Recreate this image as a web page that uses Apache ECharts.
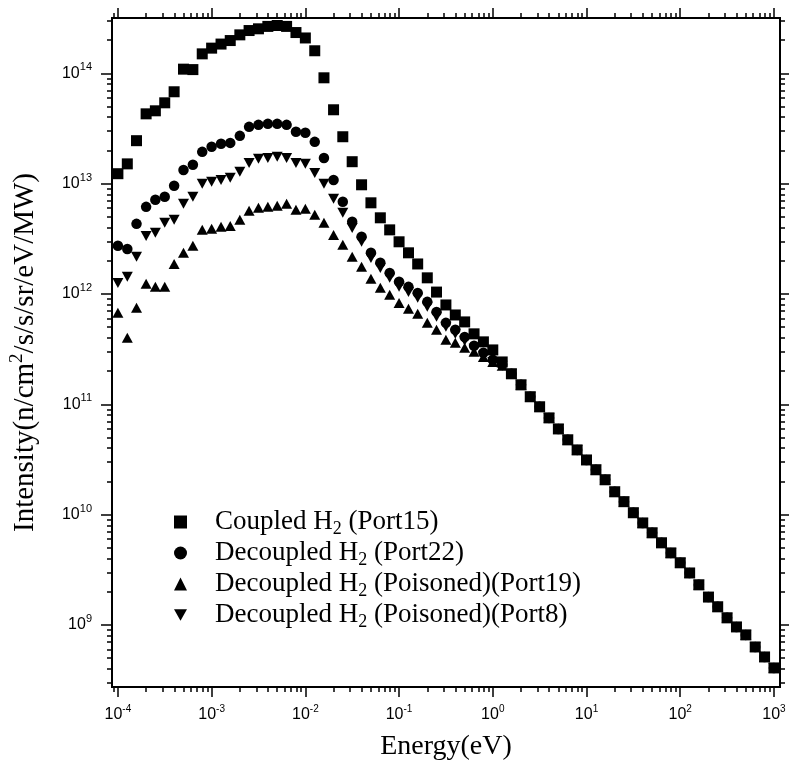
<!DOCTYPE html>
<html>
<head>
<meta charset="utf-8">
<title>Neutron spectra per port</title>
<script src="https://cdn.jsdelivr.net/npm/echarts@6/dist/echarts.min.js"></script>
<style>
  html, body { margin: 0; padding: 0; background: #fff; }
  #chart { width: 789px; height: 768px; }
</style>
</head>
<body>
<div id="chart"></div>
<script>
// energy grid in eV (10 points per decade, 1e-4 .. 1e3)
var energy = [
  1e-4, 1.26e-4, 1.58e-4, 2e-4, 2.51e-4, 3.16e-4, 3.98e-4, 5.01e-4, 6.31e-4, 7.94e-4,
  1e-3, 1.26e-3, 1.58e-3, 2e-3, 2.51e-3, 3.16e-3, 3.98e-3, 5.01e-3, 6.31e-3, 7.94e-3,
  1e-2, 1.26e-2, 1.58e-2, 2e-2, 2.51e-2, 3.16e-2, 3.98e-2, 5.01e-2, 6.31e-2, 7.94e-2,
  1e-1, 1.26e-1, 1.58e-1, 2e-1, 2.51e-1, 3.16e-1, 3.98e-1, 5.01e-1, 6.31e-1, 7.94e-1,
  1, 1.26, 1.58, 2, 2.51, 3.16, 3.98, 5.01, 6.31, 7.94,
  10, 12.6, 15.8, 20, 25.1, 31.6, 39.8, 50.1, 63.1, 79.4,
  100, 126, 158, 200, 251, 316, 398, 501, 631, 794,
  1000
];

// below ~1 eV the four spectra differ (points 0..41)
var coupled15Low = [
  1.23e13, 1.51e13, 2.45e13, 4.29e13, 4.57e13, 5.40e13, 6.80e13, 1.09e14, 1.08e14, 1.50e14,
  1.69e14, 1.84e14, 1.98e14, 2.23e14, 2.44e14, 2.53e14, 2.66e14, 2.71e14, 2.66e14, 2.34e14,
  2.09e14, 1.60e14, 9.1e13, 4.67e13, 2.66e13, 1.58e13, 9.76e12, 6.70e12, 4.90e12, 3.81e12,
  2.97e12, 2.36e12, 1.87e12, 1.40e12, 1.04e12, 7.95e11, 6.45e11, 5.58e11, 4.35e11, 3.68e11,
  3.11e11, 2.42e11
];
var decoupled22Low = [
  2.73e12, 2.56e12, 4.32e12, 6.16e12, 7.13e12, 7.59e12, 9.55e12, 1.33e13, 1.48e13, 1.94e13,
  2.16e13, 2.30e13, 2.34e13, 2.71e13, 3.27e13, 3.41e13, 3.48e13, 3.48e13, 3.41e13, 2.95e13,
  2.89e13, 2.39e13, 1.71e13, 1.08e13, 6.84e12, 4.51e12, 3.30e12, 2.36e12, 1.92e12, 1.55e12,
  1.29e12, 1.16e12, 1.02e12, 8.48e11, 6.88e11, 5.47e11, 4.73e11, 4.08e11, 3.39e11, 2.93e11,
  2.53e11, 2.28e11
];
var poisoned19Low = [
  6.74e11, 4.00e11, 7.48e11, 1.24e12, 1.16e12, 1.16e12, 1.87e12, 2.36e12, 2.73e12, 3.81e12,
  3.89e12, 4.06e12, 4.14e12, 4.70e12, 5.67e12, 6.04e12, 6.16e12, 6.29e12, 6.56e12, 5.79e12,
  5.91e12, 5.21e12, 4.41e12, 3.43e12, 2.79e12, 2.17e12, 1.76e12, 1.37e12, 1.14e12, 9.82e11,
  8.30e11, 7.33e11, 6.61e11, 5.47e11, 4.73e11, 3.84e11, 3.61e11, 3.25e11, 2.99e11, 2.69e11,
  2.42e11, 2.23e11
];
var poisoned8Low = [
  1.26e12, 1.43e12, 2.17e12, 3.36e12, 3.58e12, 4.41e12, 4.70e12, 6.56e12, 7.59e12, 9.95e12,
  1.04e13, 1.08e13, 1.13e13, 1.28e13, 1.54e13, 1.68e13, 1.71e13, 1.75e13, 1.71e13, 1.54e13,
  1.51e13, 1.25e13, 9.95e12, 7.28e12, 5.44e12, 3.97e12, 2.97e12, 2.12e12, 1.72e12, 1.40e12,
  1.16e12, 1.04e12, 9.22e11, 7.64e11, 6.21e11, 5.04e11, 4.35e11, 3.76e11, 3.18e11, 2.75e11,
  2.42e11, 2.23e11
];
// above ~1 eV all ports lie on the same 1/E line (points 42..70)
var highE = [
  1.89e11, 1.50e11, 1.17e11, 9.48e10, 7.53e10, 5.98e10, 4.76e10, 3.86e10,
  3.13e10, 2.55e10, 2.07e10, 1.61e10, 1.31e10, 1.04e10, 8.41e9, 6.84e9, 5.55e9, 4.50e9,
  3.66e9, 2.96e9, 2.31e9, 1.79e9, 1.46e9, 1.16e9, 9.6e8, 8.13e8, 6.32e8, 5.13e8,
  4.08e8
];

var seriesNames = [
  'Coupled H2 (Port15)',
  'Decoupled H2 (Port22)',
  'Decoupled H2 (Poisoned)(Port19)',
  'Decoupled H2 (Poisoned)(Port8)'
];

var xMajor = [1e-4, 1e-3, 1e-2, 1e-1, 1, 10, 100, 1000];
var yMajor = [1e9, 1e10, 1e11, 1e12, 1e13, 1e14];
var xMin = 8.65e-5, xMax = 1.16e3;
var yMin = 2.74e8, yMax = 3.17e14;

var SERIF = '"Liberation Serif", "DejaVu Serif", serif';
var SANS = '"Liberation Sans", Arial, sans-serif';
var downTri = 'path://M0,0L10,0L5,9Z';

function minors(lo, hi) {
  var out = [];
  for (var e = -6; e <= 15; e++) {
    for (var m = 2; m <= 9; m++) {
      var v = m * Math.pow(10, e);
      if (v > lo && v < hi) out.push(v);
    }
  }
  return out;
}

function powLabel(v) {
  return '10{s|' + Math.round(Math.log10(v)) + '}';
}

function logAxis(dim, pos, ticks, len, label) {
  var ax = {
    type: 'log', logBase: 10, position: pos,
    min: dim === 'x' ? xMin : yMin,
    max: dim === 'x' ? xMax : yMax,
    axisLine: { show: true, onZero: false, lineStyle: { color: '#000', width: 2 } },
    axisTick: { show: true, customValues: ticks, length: len, lineStyle: { color: '#000', width: 1.5 } },
    axisLabel: { show: false },
    splitLine: { show: false },
    minorTick: { show: false },
    minorSplitLine: { show: false }
  };
  if (label) ax.axisLabel = label;
  return ax;
}

function seriesData(low) {
  return energy.map(function (x, i) {
    return [x, i < low.length ? low[i] : highE[i - low.length]];
  });
}

var chart = echarts.init(document.getElementById('chart'), null, { renderer: 'canvas' });

var option = {
  backgroundColor: '#fff',
  animation: false,
  grid: { left: 112, right: 9, top: 18, bottom: 81 },
  legend: {
    orient: 'vertical',
    left: 174,
    top: 506,
    padding: 0,
    itemWidth: 13,
    itemHeight: 13,
    itemGap: -1,
    selectedMode: false,
    data: [
      { name: seriesNames[0], icon: 'rect' },
      { name: seriesNames[1], icon: 'circle' },
      { name: seriesNames[2], icon: 'triangle' },
      { name: seriesNames[3], icon: downTri }
    ],
    formatter: function (name) {
      var p = name.split('H2');
      return '{p|' + p[0] + 'H}{s|2}{t|' + p[1] + '}';
    },
    textStyle: {
      color: '#000', fontFamily: SERIF, fontSize: 27,
      rich: {
        p: { fontFamily: SERIF, fontSize: 27, lineHeight: 26, padding: [0, 0, 0, 23] },
        t: { fontFamily: SERIF, fontSize: 27, lineHeight: 26 },
        s: { fontFamily: SERIF, fontSize: 18, lineHeight: 26, padding: [14, 0, 0, 0] }
      }
    }
  },
  xAxis: [
    logAxis('x', 'bottom', xMajor, 10, {
      show: true, customValues: xMajor, formatter: powLabel, margin: 17,
      color: '#000', fontFamily: SANS, fontSize: 16,
      rich: { s: { fontFamily: SANS, fontSize: 10, padding: [0, 0, 12, 0] } }
    }),
    logAxis('x', 'bottom', minors(xMin, xMax), 5),
    logAxis('x', 'top', xMajor, 10),
    logAxis('x', 'top', minors(xMin, xMax), 5)
  ],
  yAxis: [
    logAxis('y', 'left', yMajor, 11, {
      show: true, customValues: yMajor, formatter: powLabel, margin: 20,
      color: '#000', fontFamily: SANS, fontSize: 16,
      rich: { s: { fontFamily: SANS, fontSize: 11, padding: [0, 0, 12, 0] } }
    }),
    logAxis('y', 'left', minors(yMin, yMax), 5),
    logAxis('y', 'right', yMajor, 11),
    logAxis('y', 'right', minors(yMin, yMax), 5)
  ],
  series: [
    { name: seriesNames[0], type: 'scatter', data: seriesData(coupled15Low), symbol: 'rect', symbolSize: 11, z: 5 },
    { name: seriesNames[1], type: 'scatter', data: seriesData(decoupled22Low), symbol: 'circle', symbolSize: 10.5, z: 3 },
    { name: seriesNames[2], type: 'scatter', data: seriesData(poisoned19Low), symbol: 'triangle', symbolSize: [11, 10], z: 2 },
    { name: seriesNames[3], type: 'scatter', data: seriesData(poisoned8Low), symbol: downTri, symbolSize: [11, 10], z: 4 }
  ].map(function (s) {
    s.xAxisIndex = 0;
    s.yAxisIndex = 0;
    s.silent = true;
    s.itemStyle = { color: '#000', opacity: 1 };
    return s;
  })
};

// axis titles
option.xAxis[0].name = 'Energy(eV)';
option.xAxis[0].nameLocation = 'middle';
option.xAxis[0].nameGap = 46;
option.xAxis[0].nameTextStyle = { color: '#000', fontFamily: SERIF, fontSize: 28 };

option.yAxis[0].name = 'Intensity(n/cm{s|2}/s/s/sr/eV/MW)';
option.yAxis[0].nameLocation = 'middle';
option.yAxis[0].nameRotate = 90;
option.yAxis[0].nameGap = 70;
option.yAxis[0].nameTextStyle = {
  color: '#000', fontFamily: SERIF, fontSize: 29,
  rich: { s: { fontFamily: SERIF, fontSize: 19, padding: [0, 0, 15, 0] } }
};

chart.setOption(option);
</script>
</body>
</html>
